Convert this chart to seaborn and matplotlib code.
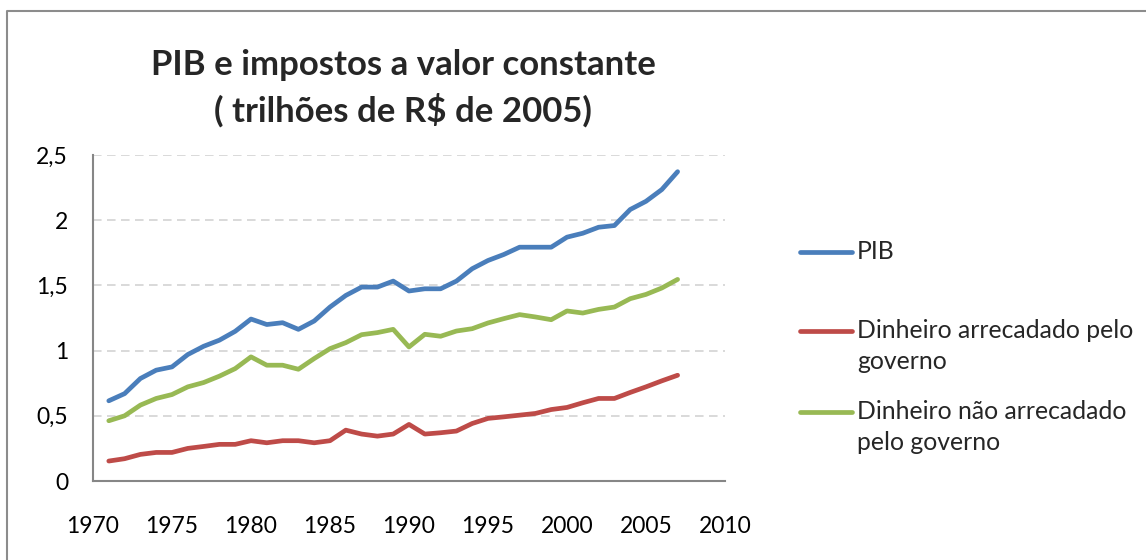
import pandas as pd
import numpy as np
import matplotlib
matplotlib.use("Agg")
import matplotlib.pyplot as plt
from matplotlib.lines import Line2D
import seaborn as sns

# --- data (trillions of R$ at 2005 prices) ---
years = list(range(1971, 2008))
pib = [0.615, 0.67, 0.786, 0.85, 0.875, 0.97, 1.033, 1.08, 1.148, 1.242,
       1.20, 1.214, 1.163, 1.227, 1.334, 1.423, 1.487, 1.487, 1.533, 1.457,
       1.474, 1.474, 1.533, 1.628, 1.691, 1.737, 1.793, 1.793, 1.793, 1.87,
       1.90, 1.946, 1.959, 2.082, 2.145, 2.235, 2.372]
arrecadado = [0.153, 0.171, 0.204, 0.219, 0.219, 0.25, 0.265, 0.281, 0.281, 0.309,
              0.293, 0.309, 0.309, 0.293, 0.309, 0.39, 0.36, 0.344, 0.36, 0.434,
              0.36, 0.37, 0.383, 0.441, 0.48, 0.492, 0.505, 0.518, 0.548, 0.564,
              0.60, 0.633, 0.633, 0.679, 0.722, 0.768, 0.811]
nao_arrecadado = [0.462, 0.50, 0.582, 0.633, 0.663, 0.722, 0.755, 0.804, 0.862, 0.952,
                  0.888, 0.888, 0.857, 0.939, 1.015, 1.061, 1.122, 1.138, 1.163, 1.028,
                  1.125, 1.11, 1.15, 1.168, 1.212, 1.245, 1.276, 1.258, 1.237, 1.304,
                  1.288, 1.316, 1.334, 1.398, 1.431, 1.48, 1.546]

series_names = ["PIB", "Dinheiro arrecadado pelo governo",
                "Dinheiro não arrecadado pelo governo"]
# legend labels wrap the way Excel wrapped them
legend_lines = [["PIB"],
                ["Dinheiro arrecadado pelo", "governo"],
                ["Dinheiro não arrecadado", "pelo governo"]]
colors = ["#4A7EBB", "#BE4B48", "#98B954"]
y_ticks = [0, 0.5, 1, 1.5, 2, 2.5]
y_labels = ["0", "0,5", "1", "1,5", "2", "2,5"]
x_ticks = [1970, 1975, 1980, 1985, 1990, 1995, 2000, 2005, 2010]

df = pd.DataFrame({
    "Ano": years * 3,
    "Valor": pib + arrecadado + nao_arrecadado,
    "Serie": np.repeat(series_names, len(years)),
})

W, H = 1146, 560

# --- style ---
sns.set_style("white")
plt.rcParams["font.family"] = ["Lato", "DejaVu Sans"]

fig = plt.figure(figsize=(W / 100, H / 100), dpi=100)
ax = fig.add_axes([93 / W, 1 - 481 / H, (725 - 93) / W, (481 - 155) / H])

sns.lineplot(data=df, x="Ano", y="Valor", hue="Serie", hue_order=series_names,
             palette=colors, linewidth=3.4, ax=ax, legend=False,
             solid_capstyle="round", solid_joinstyle="round")

ax.set_xlim(1970, 2010)
ax.set_ylim(0, 2.5)
ax.set_xticks(x_ticks)
ax.set_yticks(y_ticks)
ax.set_yticklabels(y_labels)
ax.set_xlabel("")
ax.set_ylabel("")
ax.tick_params(axis="both", labelsize=16.5, colors="#868686", labelcolor="black",
               length=5, width=1.5, direction="out")
ax.tick_params(axis="x", pad=20)
ax.tick_params(axis="y", pad=13)
ax.grid(axis="y", color="#D9D9D9", linestyle=(0, (4.4, 2.8)), linewidth=1.4)
ax.set_axisbelow(True)
for side in ["top", "right"]:
    ax.spines[side].set_visible(False)
for side in ["left", "bottom"]:
    ax.spines[side].set_color("#868686")
    ax.spines[side].set_linewidth(1.5)

# legend on the right, handle aligned with the first text line like Excel
handle_y = [252, 331, 412]
line_gap = 31
for c, hy, lines in zip(colors, handle_y, legend_lines):
    fig.add_artist(Line2D([800 / W, 852 / W], [1 - hy / H, 1 - hy / H],
                          transform=fig.transFigure, color=c, lw=3.4,
                          solid_capstyle="round"))
    for k, txt in enumerate(lines):
        fig.text(857 / W, 1 - (hy + 7 + k * line_gap) / H, txt,
                 ha="left", va="baseline", fontsize=17.8)

# title
fig.text(403 / W, 1 - 65 / H, "PIB e impostos a valor constante",
         ha="center", va="center", fontsize=25, fontweight="bold")
fig.text(403 / W, 1 - 110 / H, "( trilhões de R$ de 2005)",
         ha="center", va="center", fontsize=25, fontweight="bold")

# chart frame (only top and left edges visible in the crop)
fig.add_artist(Line2D([7 / W, 7 / W, 1.0], [0.0, 1 - 11 / H, 1 - 11 / H],
                      transform=fig.transFigure, color="#8C8C8C", lw=1.5))

fig.savefig("out.png", dpi=100)
